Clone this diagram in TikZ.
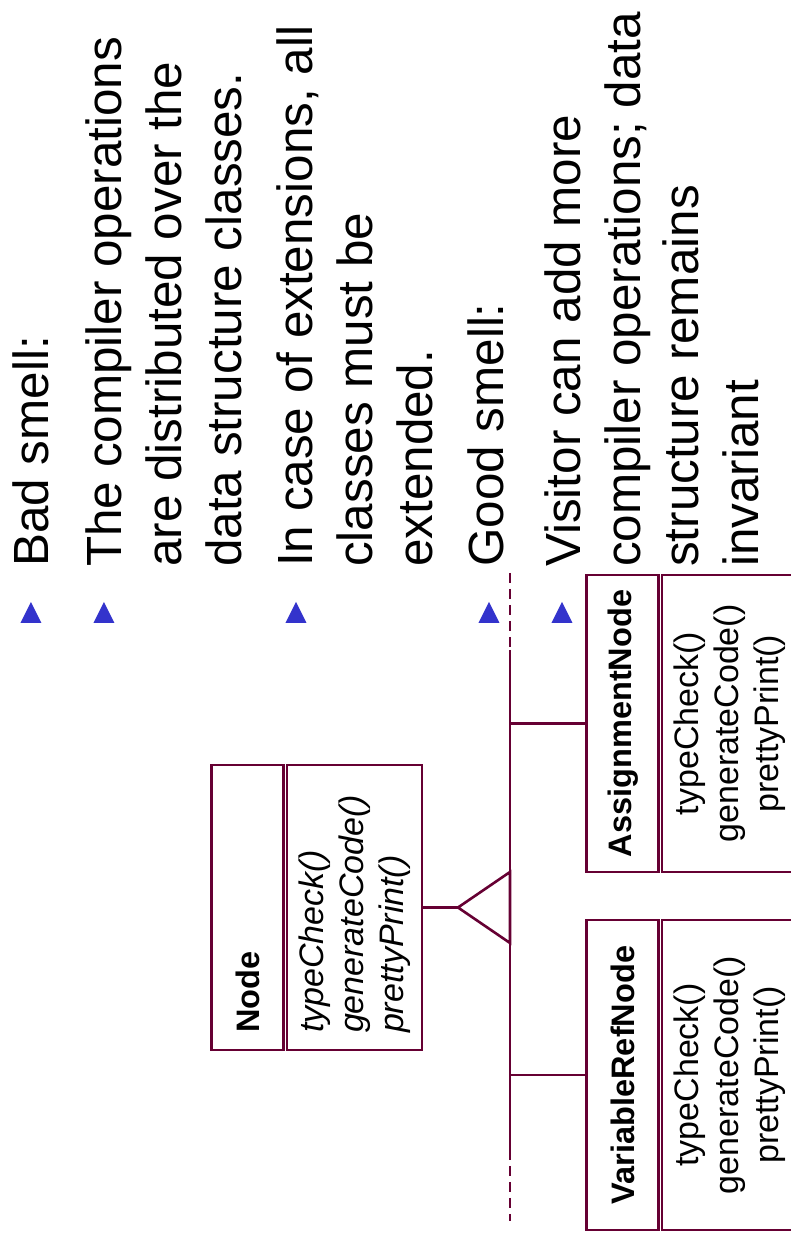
\documentclass[tikz,border=0pt]{standalone}
\usepackage{fontspec}
\setmainfont{Liberation Sans}
\usetikzlibrary{positioning}
\definecolor{umlred}{RGB}{102,0,51}
\definecolor{bulletblue}{RGB}{51,51,204}
\tikzset{%
  txt/.style={inner sep=0pt, anchor=base west, font=\fontsize{49.4}{60}\selectfont},
  uml/.style={draw=umlred, line width=1.3pt},
  cname/.style={uml, minimum height=72pt, font=\fontsize{32.5}{40}\selectfont\bfseries},
  cops/.style={uml, minimum height=135pt, align=center, font=\fontsize{34}{40}\selectfont},
  abstr/.style={inner xsep=17pt, align=left},
  busdash/.style={uml, dash pattern=on 5pt off 3pt},
  bul/.pic={\fill[bulletblue] (-10.5,-10.5) -- (10.5,0) -- (-10.5,10.5) -- cycle;}
}

\begin{document}
\begin{tikzpicture}
  \begin{scope}[rotate=90, scale=0.5, transform shape, x=1pt, y=1pt]
    \useasboundingbox (0,0) rectangle (1240,791);
    % bullet list
    \node[txt] (l1)  at (673,742) {Bad smell:};
    \node[txt] (l2)  at (673,669) {The compiler operations};
    \node[txt] (l3)  at (673,609) {are distributed over the};
    \node[txt] (l4)  at (673,549) {data structure classes.};
    \node[txt] (l5)  at (673,478) {In case of extensions, all};
    \node[txt] (l6)  at (673,418) {classes must be};
    \node[txt] (l7)  at (673,358) {extended.};
    \node[txt] (l8)  at (673,288) {Good smell:};
    \node[txt] (l9)  at (673,211) {Visitor can add more};
    \node[txt] (l10) at (673,151) {compiler operations; data};
    \node[txt] (l11) at (673,93)  {structure remains};
    \node[txt] (l12) at (673,33)  {invariant};
    \pic at (627.5,760) {bul};
    \pic at (627.5,687) {bul};
    \pic at (627.5,495) {bul};
    \pic at (627.5,302) {bul};
    \pic at (627.5,229) {bul};
    % class diagram
    \node[cops, abstr, minimum width=285pt, text width=251pt,
          font=\fontsize{34}{40}\selectfont\itshape] (nodeops) at (332.5,436.5)
          {typeCheck()\\generateCode()\\prettyPrint()};
    \node[cname, abstr, minimum width=285pt, text width=251pt] (nodename)
          [above=2pt of nodeops] {Node};
    \node[cops, minimum width=297pt] (asnops) at (516.5,61.5)
          {typeCheck()\\generateCode()\\prettyPrint()};
    \node[cname, minimum width=297pt] (asnname) [above=2pt of asnops] {AssignmentNode};
    \node[cops, minimum width=310pt] (varops) at (165,61.5)
          {typeCheck()\\generateCode()\\prettyPrint()};
    \node[cname, minimum width=310pt] (varname) [above=2pt of varops] {VariableRefNode};
    \coordinate (apex) at (332.5,333);
    \coordinate (asnjoin) at (516.5,281);
    \coordinate (varjoin) at (165,281);
    \coordinate (bus0) at (667,281);
    \coordinate (bus1) at (590,281);
    \coordinate (bus2) at (90,281);
    \coordinate (bus3) at (19,281);
    \draw[busdash] (bus0) -- (bus1);
    \draw[uml] (bus1) -- (bus2);
    \draw[busdash] (bus2) -- (bus3);
    \draw[uml] (nodeops.south) -- (apex);
    \draw[uml, fill=white] (apex) -- (297,281) -- (368,281) -- cycle;
    \draw[uml] (asnname.north) -- (asnjoin);
    \draw[uml] (varname.north) -- (varjoin);
  \end{scope}
\end{tikzpicture}
\end{document}
